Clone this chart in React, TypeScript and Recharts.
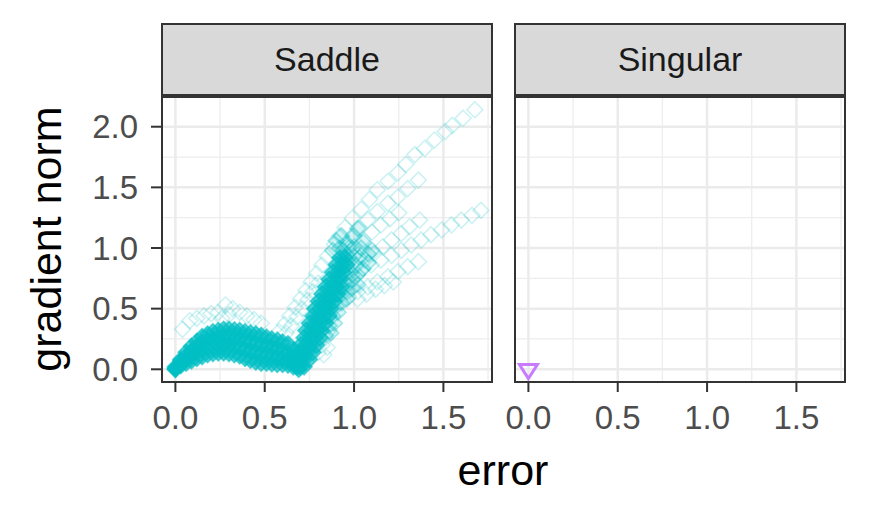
import { ScatterChart, Scatter, XAxis, YAxis, ReferenceLine } from "recharts";

const FONT = '"Liberation Sans", Arial, Helvetica, sans-serif';
const CYAN = "#00BFC4";
const PURPLE = "#C77CFF";

const facets = ["Saddle", "Singular"];
const xMajor = [0, 0.5, 1, 1.5];
const xMinor = [0.25, 0.75, 1.25, 1.75];
const yMajor = [0, 0.5, 1, 1.5, 2];
const yMinor = [0.25, 0.75, 1.25, 1.75];
const xDomain = [-0.075, 1.772];
const yDomain = [-0.0965, 2.245];

// dense hump of the Saddle panel (error 0 .. 0.7)
const humpX = [0.0, 0.03, 0.06, 0.09, 0.12, 0.15, 0.18, 0.21, 0.24, 0.27, 0.3, 0.33, 0.36, 0.39, 0.42, 0.45, 0.48, 0.51, 0.54, 0.57, 0.6, 0.63, 0.66, 0.69];
const humpLow = [0.0, 0.03, 0.05, 0.07, 0.09, 0.105, 0.12, 0.13, 0.135, 0.135, 0.13, 0.12, 0.11, 0.09, 0.075, 0.06, 0.05, 0.05, 0.045, 0.04, 0.04, 0.035, 0.02, 0.0];
const humpMidLow = [0.0, 0.05, 0.08, 0.11, 0.14, 0.16, 0.18, 0.19, 0.2, 0.2, 0.2, 0.19, 0.18, 0.165, 0.15, 0.14, 0.13, 0.12, 0.11, 0.1, 0.09, 0.08, 0.06, 0.03];
const humpMidHigh = [0.01, 0.07, 0.11, 0.15, 0.19, 0.22, 0.24, 0.25, 0.26, 0.26, 0.26, 0.255, 0.25, 0.24, 0.225, 0.21, 0.2, 0.19, 0.18, 0.17, 0.155, 0.14, 0.11, 0.06];
const humpHigh = [0.02, 0.08, 0.14, 0.19, 0.23, 0.27, 0.29, 0.31, 0.32, 0.33, 0.33, 0.325, 0.32, 0.31, 0.3, 0.29, 0.28, 0.265, 0.25, 0.24, 0.225, 0.21, 0.16, 0.09];

// steep rise after error 0.7
const riseLevels = [0.02, 0.08, 0.14, 0.2, 0.26, 0.32, 0.38, 0.44, 0.5, 0.56, 0.62, 0.68, 0.74, 0.8, 0.86, 0.92];
const riseXs = [
  [0.68, 0.7, 0.72],
  [0.68, 0.7, 0.72, 0.75],
  [0.69, 0.71, 0.74, 0.77],
  [0.7, 0.73, 0.76, 0.79],
  [0.72, 0.75, 0.78, 0.81],
  [0.73, 0.76, 0.79, 0.82],
  [0.75, 0.78, 0.81, 0.84],
  [0.77, 0.8, 0.83, 0.86],
  [0.78, 0.81, 0.84, 0.87],
  [0.8, 0.83, 0.86, 0.89],
  [0.82, 0.85, 0.88, 0.91],
  [0.84, 0.87, 0.9, 0.93],
  [0.86, 0.89, 0.92],
  [0.88, 0.91, 0.94],
  [0.9, 0.93, 0.96],
  [0.92, 0.95],
];

// medium density where the runs fan out
const fanPairs = [
  [0.94, 0.98], [0.96, 1.04], [0.92, 1.0], [0.97, 0.92], [0.99, 0.99], [0.95, 0.86], [0.98, 0.8],
  [1.01, 0.86], [1.03, 0.92], [0.96, 0.7], [0.99, 0.74], [1.02, 0.78], [1.05, 0.83], [0.93, 0.62],
  [0.96, 0.64], [0.99, 0.67], [1.02, 0.7], [0.9, 0.52], [0.93, 0.55], [0.96, 0.58], [0.88, 0.44],
  [0.91, 0.47], [0.86, 0.36], [0.89, 0.38], [0.84, 0.28], [0.87, 0.3], [0.9, 1.06], [0.93, 1.1],
  [0.88, 0.98], [1.0, 1.1], [1.02, 1.16], [1.05, 1.05], [1.08, 0.95], [1.08, 0.88], [1.1, 0.98],
  [0.94, 0.92], [0.97, 1.0], [0.95, 0.78], [0.92, 0.76], [1.0, 0.93], [1.04, 1.0],
];

// sparse runs
const chainTop = [[0.89, 1.03], [0.92, 1.1], [0.95, 1.17], [0.99, 1.245], [1.04, 1.32], [1.086, 1.4], [1.13, 1.48], [1.19, 1.55], [1.245, 1.62], [1.29, 1.69], [1.34, 1.77], [1.395, 1.82], [1.45, 1.89], [1.51, 1.96], [1.55, 2.01], [1.61, 2.07], [1.676, 2.14]];
const chainTwo = [[0.95, 1.03], [0.99, 1.1], [1.03, 1.16], [1.077, 1.23], [1.13, 1.3], [1.19, 1.37], [1.245, 1.42], [1.3, 1.49], [1.36, 1.56]];
const chainThree = [[0.96, 0.79], [1.01, 0.846], [1.06, 0.9], [1.114, 0.956], [1.16, 1.01], [1.21, 1.066], [1.264, 1.12], [1.31, 1.175], [1.367, 1.23]];
const chainFour = [[0.94, 0.74], [0.99, 0.78], [1.04, 0.82], [1.096, 0.86], [1.15, 0.9], [1.21, 0.94], [1.264, 0.98], [1.32, 1.025], [1.376, 1.066], [1.43, 1.11], [1.49, 1.15], [1.545, 1.19], [1.6, 1.23], [1.66, 1.27], [1.71, 1.31]];
const chainFive = [[0.97, 0.6], [1.02, 0.64], [1.077, 0.68], [1.13, 0.72], [1.19, 0.763], [1.245, 0.805], [1.3, 0.846], [1.36, 0.887]];
const chainSix = [[1.02, 0.58], [1.07, 0.62], [1.12, 0.66], [1.17, 0.69], [1.22, 0.72]];
const chainSeven = [[0.96, 0.95], [1.0, 1.01], [1.05, 1.07], [1.1, 1.13], [1.15, 1.19], [1.2, 1.24], [1.25, 1.29]];
const chainLeftA = [[0.58, 0.31], [0.61, 0.37], [0.64, 0.44], [0.67, 0.51], [0.7, 0.58], [0.73, 0.65], [0.76, 0.72], [0.79, 0.79], [0.82, 0.86], [0.85, 0.93]];
const chainLeftB = [[0.62, 0.3], [0.65, 0.36], [0.68, 0.43], [0.71, 0.5], [0.74, 0.57], [0.77, 0.64], [0.8, 0.71]];
const humpTop = [[0.04, 0.33], [0.08, 0.4], [0.12, 0.42], [0.16, 0.44], [0.2, 0.46], [0.24, 0.47], [0.26, 0.42], [0.28, 0.53], [0.3, 0.45], [0.32, 0.5], [0.36, 0.47], [0.4, 0.44], [0.44, 0.41], [0.48, 0.38]];
const riseRight = [[0.8, 0.14], [0.82, 0.2], [0.84, 0.26], [0.86, 0.32], [0.83, 0.12], [0.85, 0.18]];

const singularPairs = [[0.0, 0.0]];

const toPts = (pairs: number[][]) => pairs.map(([x, y]) => ({ x, y }));

const densePts = [
  ...[humpLow, humpMidLow, humpMidHigh, humpHigh].flatMap((row) => row.map((y, i) => ({ x: humpX[i], y }))),
  ...riseLevels.flatMap((y, i) => riseXs[i].map((x) => ({ x, y }))),
];
const fanPts = toPts(fanPairs);
const sparsePts = toPts([
  ...chainTop, ...chainTwo, ...chainThree, ...chainFour, ...chainFive, ...chainSix, ...chainSeven,
  ...chainLeftA, ...chainLeftB, ...humpTop, ...riseRight,
]);
const singularPts = toPts(singularPairs);

const diamond = (style: any) => (props: any) => {
  const { cx, cy } = props;
  const r = 8;
  return (
    <polygon
      points={`${cx},${cy - r} ${cx + r},${cy} ${cx},${cy + r} ${cx - r},${cy}`}
      stroke={CYAN}
      strokeWidth={1.6}
      {...style}
    />
  );
};

const triangle = (props: any) => {
  const { cx, cy } = props;
  return (
    <polygon
      points={`${cx - 9},${cy - 4.7} ${cx + 9},${cy - 4.7} ${cx},${cy + 9.3}`}
      fill="none"
      stroke={PURPLE}
      strokeWidth={3}
      strokeLinejoin="miter"
    />
  );
};

const XTick = ({ x, y, payload }: any) => (
  <text x={x} y={y} dy={35} textAnchor="middle" fontSize={33} fontFamily={FONT} fill="#4D4D4D">
    {Number(payload.value).toFixed(1)}
  </text>
);

const YTick = ({ x, y, payload }: any) => (
  <text x={x} y={y} dy={11.5} textAnchor="end" fontSize={33} fontFamily={FONT} fill="#4D4D4D">
    {Number(payload.value).toFixed(1)}
  </text>
);

const gridLines = () => [
  ...xMinor.map((v) => <ReferenceLine key={`xm${v}`} x={v} stroke="#EDEDED" strokeWidth={1.3} />),
  ...yMinor.map((v) => <ReferenceLine key={`ym${v}`} y={v} stroke="#EDEDED" strokeWidth={1.3} />),
  ...xMajor.map((v) => <ReferenceLine key={`xM${v}`} x={v} stroke="#EBEBEB" strokeWidth={2.5} />),
  ...yMajor.map((v) => <ReferenceLine key={`yM${v}`} y={v} stroke="#EBEBEB" strokeWidth={2.5} />),
];

const Panel = ({ left, width, yWidth, showY, children }: any) => (
  <div style={{ position: "absolute", left, top: 0 }}>
    <ScatterChart width={width} height={440} margin={{ top: 97, right: 8, bottom: 0, left: showY ? 0 : yWidth }}>
      <XAxis
        type="number"
        dataKey="x"
        domain={xDomain}
        ticks={xMajor}
        interval={0}
        allowDataOverflow
        axisLine={false}
        tickSize={11}
        tickMargin={2}
        tickLine={{ stroke: "#333333", strokeWidth: 2 }}
        tick={<XTick />}
        height={59}
      />
      <YAxis
        type="number"
        dataKey="y"
        domain={yDomain}
        ticks={yMajor}
        interval={0}
        allowDataOverflow
        hide={!showY}
        axisLine={false}
        width={yWidth}
        tickSize={11}
        tickMargin={13}
        tickLine={{ stroke: "#333333", strokeWidth: 2 }}
        tick={<YTick />}
      />
      {gridLines()}
      {children}
    </ScatterChart>
  </div>
);

const Strip = ({ left, label }: { left: number; label: string }) => (
  <>
    <div
      style={{
        position: "absolute",
        left,
        top: 23,
        width: 332,
        height: 73,
        boxSizing: "border-box",
        background: "#D9D9D9",
        border: "2px solid #333333",
        textAlign: "center",
        lineHeight: "69px",
        fontSize: 34,
        fontFamily: FONT,
        color: "#1A1A1A",
      }}
    >
      {label}
    </div>
    <div
      style={{
        position: "absolute",
        left,
        top: 96,
        width: 332,
        height: 287,
        boxSizing: "border-box",
        border: "2px solid #333333",
        pointerEvents: "none",
      }}
    />
  </>
);

export default function App() {
  return (
    <div style={{ position: "absolute", left: 0, top: 0, width: 870, height: 510, background: "#FFFFFF", overflow: "hidden" }}>
      <Panel left={0} width={500} yWidth={162} showY>
        <Scatter data={densePts} isAnimationActive={false} shape={diamond({ fill: CYAN, fillOpacity: 0.7, strokeOpacity: 0.6 })} />
        <Scatter data={fanPts} isAnimationActive={false} shape={diamond({ fill: CYAN, fillOpacity: 0.16, strokeOpacity: 0.34 })} />
        <Scatter data={sparsePts} isAnimationActive={false} shape={diamond({ fill: "none", strokeOpacity: 0.2 })} />
      </Panel>
      <Panel left={485} width={368} yWidth={30} showY={false}>
        <Scatter data={singularPts} isAnimationActive={false} shape={triangle} />
      </Panel>
      <Strip left={161} label={facets[0]} />
      <Strip left={514} label={facets[1]} />
      <svg width={870} height={510} style={{ position: "absolute", left: 0, top: 0, pointerEvents: "none" }}>
        <text x={61} y={239} transform="rotate(-90, 61, 239)" textAnchor="middle" fontSize={43} fontFamily={FONT} fill="#000000">
          gradient norm
        </text>
        <text x={503} y={485} textAnchor="middle" fontSize={43} fontFamily={FONT} fill="#000000">
          error
        </text>
      </svg>
    </div>
  );
}
